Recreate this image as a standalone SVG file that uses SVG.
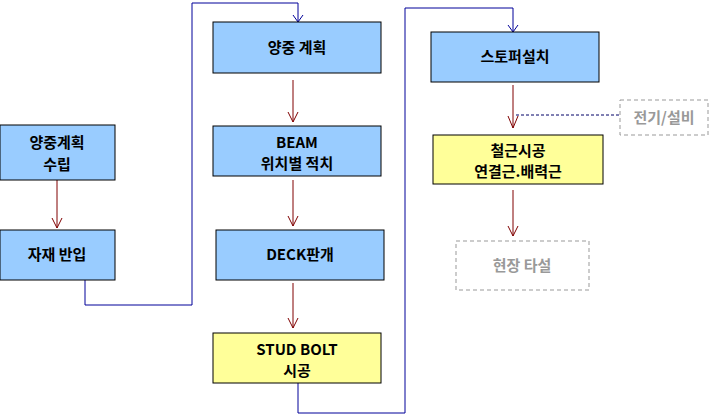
<svg xmlns="http://www.w3.org/2000/svg" width="723" height="415" viewBox="0 0 723 415">
<style>
.b{fill:#99CCFF;stroke:#000;stroke-width:1}
.y{fill:#FFFF99;stroke:#000;stroke-width:1}
.g{fill:#fff;stroke:#999;stroke-width:1;stroke-dasharray:4,3}
text{font-family:"Noto Sans CJK KR","Liberation Serif",sans-serif;font-size:15px;font-weight:bold;text-anchor:middle;fill:#000}
.gt{fill:#999}
.r{stroke:#800000;stroke-width:1;fill:none}
.bl{stroke:#000099;stroke-width:1;fill:none}
.d{stroke:#000066;stroke-width:1;fill:none;stroke-dasharray:3,2}
</style>
<g id="connectors">
<path class="bl" d="M85,280 V305 H192 V3 H298 V22 M293,15 L298,22 L303,15"/>
<path class="bl" d="M298,383 V413 H405 V8 H513 V32 M508,25 L513,32 L518,25"/>
<path class="r" d="M57,180 V228 M52,218 L57,228 L62,218"/>
<path class="r" d="M293,80 V122 M288,112 L293,122 L298,112"/>
<path class="r" d="M293,180 V226 M288,216 L293,226 L298,216"/>
<path class="r" d="M293,283 V328 M288,318 L293,328 L298,318"/>
<path class="r" d="M513,85 V128 M508,116 L513,128 L518,116"/>
<path class="r" d="M513,190 V236 M508,226 L513,236 L518,226"/>
<path class="d" d="M516,115 H620"/>
</g>
<g id="n1"><rect class="b" x="0" y="125" width="115" height="55"/><text x="57" y="148">양중계획</text><text x="57" y="170">수립</text></g>
<g id="n2"><rect class="b" x="0" y="230" width="115" height="50"/><text x="57" y="260">자재 반입</text></g>
<g id="n3"><rect class="b" x="213" y="22" width="168" height="51"/><text x="297" y="53">양중 계획</text></g>
<g id="n4"><rect class="b" x="213" y="126" width="168" height="50"/><text x="297" y="148">BEAM</text><text x="297" y="169">위치별 적치</text></g>
<g id="n5"><rect class="b" x="216" y="230" width="168" height="50"/><text x="300" y="260">DECK판개</text></g>
<g id="n6"><rect class="y" x="213" y="333" width="168" height="50"/><text x="297" y="355">STUD BOLT</text><text x="297" y="376">시공</text></g>
<g id="n7"><rect class="b" x="431" y="32" width="168" height="50"/><text x="515" y="62">스토퍼설치</text></g>
<g id="n8"><rect class="y" x="433" y="135" width="170" height="49"/><text x="518" y="156">철근시공</text><text x="518" y="177">연결근.배력근</text></g>
<g id="n9"><rect class="g" x="620" y="100" width="88" height="35"/><text class="gt" x="664" y="123">전기/설비</text></g>
<g id="n10"><rect class="g" x="456" y="241" width="133" height="49"/><text class="gt" x="522" y="271">현장 타설</text></g>
</svg>
